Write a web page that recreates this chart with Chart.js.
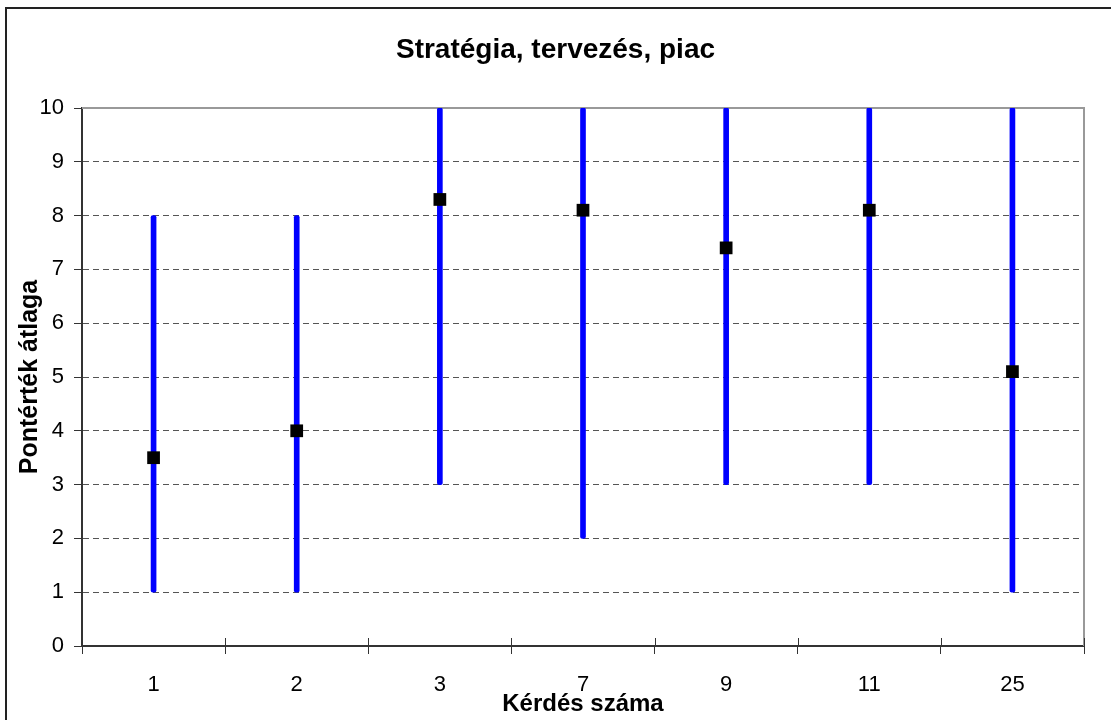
<!DOCTYPE html>
<html>
<head>
<meta charset="utf-8">
<script src="https://cdn.jsdelivr.net/npm/chart.js@4/dist/chart.umd.min.js"></script>
<style>
  html, body { margin: 0; padding: 0; background: #fff; }
  canvas { display: block; }
</style>
</head>
<body>
<canvas id="js-chart" width="1111" height="720"></canvas>
<script>
"use strict";

// kérdések (x tengely)
const questions = ["1", "2", "3", "7", "9", "11", "25"];
// minimum / maximum pontszám
const lows = [1, 1, 3, 2, 3, 3, 1];
const highs = [8, 8, 10, 10, 10, 10, 10];
// átlagok
const means = [3.5, 4.0, 8.3, 8.1, 7.4, 8.1, 5.1];

const font = "'Liberation Sans', Arial, sans-serif";

// keret + plot terület szegélye
const framePlugin = {
  id: "frame",
  beforeDraw(chart) {
    const ctx = chart.ctx;
    ctx.save();
    ctx.fillStyle = "#fff";
    ctx.fillRect(0, 0, chart.width, chart.height);
    ctx.strokeStyle = "#222";
    ctx.lineWidth = 2;
    ctx.beginPath();
    ctx.moveTo(6, chart.height + 5);
    ctx.lineTo(6, 8);
    ctx.lineTo(chart.width + 5, 8);
    ctx.stroke();
    ctx.restore();
  },
  beforeDatasetsDraw(chart) {
    const a = chart.chartArea;
    const ctx = chart.ctx;
    ctx.save();
    ctx.strokeStyle = "#999";
    ctx.lineWidth = 2;
    ctx.beginPath();
    ctx.moveTo(a.left, a.top);
    ctx.lineTo(a.right, a.top);
    ctx.lineTo(a.right, a.bottom);
    ctx.stroke();
    // x tengely osztásai felfelé is
    const x = chart.scales.x;
    ctx.strokeStyle = "#333";
    ctx.lineWidth = 1;
    ctx.beginPath();
    for (let i = 0; i <= questions.length; i++) {
      const px = Math.round(x.getPixelForValue(i - 0.5)) + 0.5;
      ctx.moveTo(px, a.bottom - 8);
      ctx.lineTo(px, a.bottom);
    }
    ctx.stroke();
    ctx.restore();
  }
};

let ctx = document.getElementById("js-chart").getContext("2d");
let myChart = new Chart(ctx, {
  type: "bar",
  data: {
    labels: questions,
    datasets: [
      {
        type: "line",
        label: "átlag",
        data: means,
        showLine: false,
        pointStyle: "rect",
        pointRadius: 9,
        pointBackgroundColor: "#000",
        pointBorderColor: "#000",
        pointBorderWidth: 0,
        order: 0
      },
      {
        label: "tartomány",
        data: lows.map((v, i) => [v, highs[i]]),
        backgroundColor: "#0000ff",
        barThickness: 5,
        borderRadius: 2,
        borderSkipped: false,
        order: 1
      }
    ]
  },
  options: {
    responsive: false,
    animation: false,
    layout: { padding: 0 },
    plugins: {
      legend: { display: false },
      tooltip: { enabled: false },
      title: {
        display: true,
        text: "Stratégia, tervezés, piac",
        color: "#000",
        font: { family: font, size: 28, weight: "bold" },
        padding: { top: 33, bottom: 41.4 }
      }
    },
    scales: {
      x: {
        offset: true,
        grid: {
          offset: true,
          drawOnChartArea: false,
          color: "#333",
          tickLength: 8
        },
        border: { color: "#333", width: 2 },
        ticks: {
          color: "#000",
          padding: 18,
          font: { family: font, size: 22 }
        },
        title: {
          display: true,
          text: "Kérdés száma",
          color: "#000",
          font: { family: font, size: 24, weight: "bold" },
          padding: { top: 0, bottom: 1 }
        },
        afterFit(scale) { scale.height = 74; }
      },
      y: {
        min: 0,
        max: 10,
        grid: {
          color: "#555",
          tickColor: "#333",
          tickLength: 8,
          tickBorderDash: [],
          drawTicks: true
        },
        border: { color: "#333", width: 2, dash: [6, 4] },
        ticks: {
          stepSize: 1,
          color: "#000",
          padding: 10,
          font: { family: font, size: 22 }
        },
        title: {
          display: true,
          text: "Pontérték átlaga",
          color: "#000",
          font: { family: font, size: 25, weight: "bold" },
          padding: { top: 15, bottom: 0 }
        },
        afterFit(scale) { scale.width = 82; }
      },
      // üres hely a jobb oldalon
      yRight: {
        position: "right",
        display: true,
        grid: { display: false },
        border: { display: false },
        ticks: { display: false },
        afterFit(scale) { scale.width = 27; }
      }
    }
  },
  plugins: [framePlugin]
});
</script>
</body>
</html>
